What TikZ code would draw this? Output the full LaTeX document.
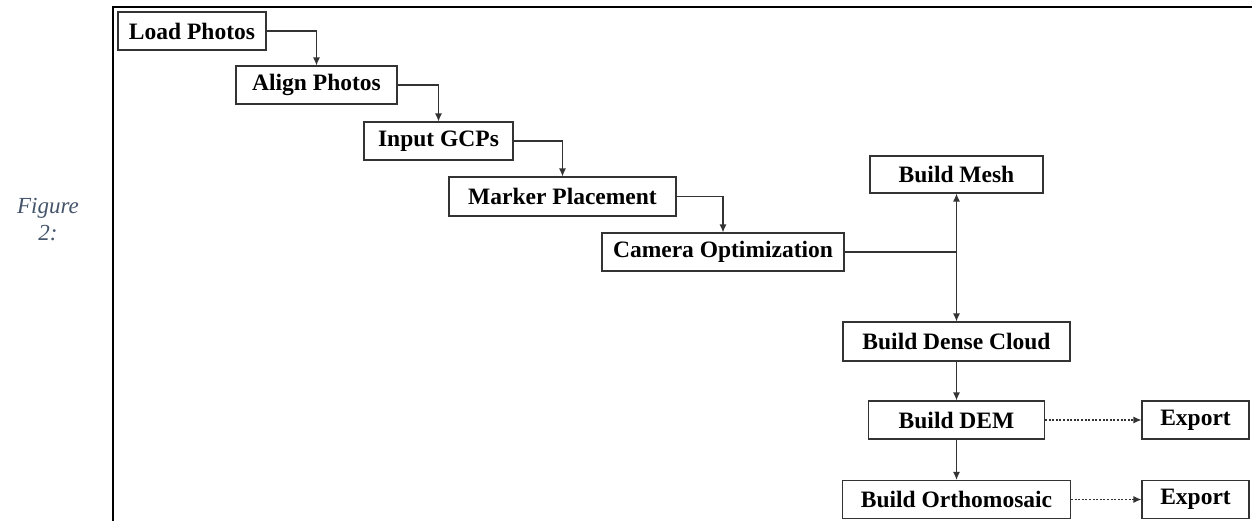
\documentclass[tikz,border=0pt]{standalone}
\usepackage{fontspec}
\setmainfont{Liberation Serif}
\usetikzlibrary{arrows.meta}
\definecolor{boxline}{HTML}{333333}
\definecolor{capcol}{HTML}{44546A}
\begin{document}
\begin{tikzpicture}[x=1pt,y=-1pt,
  stepbox/.style={draw=boxline,line width=1.1pt,fill=white,inner sep=0pt,
    font=\fontsize{23.5}{27}\selectfont\bfseries,text=black},
  conn/.style={draw=boxline,line width=1.2pt},
  arr/.style={conn,-{Latex[length=8pt,width=7pt]}},
  dotarr/.style={arr,dash pattern=on 2pt off 1.6pt}]
\useasboundingbox (0,0) rectangle (1252,521);
\draw[line width=1.6pt,black] (113,521) -- (113,7) -- (1252,7);
\node[font=\fontsize{23}{27}\selectfont\itshape,text=capcol,align=center] (cap) at (48,220) {Figure\\2:};
\node[stepbox,minimum width=148pt,minimum height=38pt] (load) at (192,31) {Load Photos};
\node[stepbox,minimum width=161pt,minimum height=38pt] (align) at (316.5,85) {Align Photos};
\node[stepbox,minimum width=149pt,minimum height=38pt] (gcp) at (438.5,141) {Input GCPs};
\node[stepbox,minimum width=227pt,minimum height=39pt] (marker) at (562.5,196.5) {Marker Placement};
\node[stepbox,minimum width=242pt,minimum height=38pt] (camera) at (723,252) {Camera Optimization};
\node[stepbox,minimum width=173pt,minimum height=37pt] (mesh) at (956.5,174.5) {Build Mesh};
\node[stepbox,minimum width=227pt,minimum height=39pt] (dense) at (956.5,341.5) {Build Dense Cloud};
\node[stepbox,minimum width=176pt,minimum height=38pt] (dem) at (956.5,420) {Build DEM};
\node[stepbox,minimum width=228pt,minimum height=38pt] (ortho) at (956.5,499.5) {Build Orthomosaic};
\node[stepbox,minimum width=107pt,minimum height=38pt] (exp1) at (1195.5,420) {Export};
\node[stepbox,minimum width=107pt,minimum height=38pt] (exp2) at (1195.5,499.5) {Export};
\coordinate (junc) at (956.5,252);
\draw[arr] (load.east) -| (align.north);
\draw[arr] (align.east) -| (gcp.north);
\draw[arr] (gcp.east) -| (marker.north);
\draw[arr] (marker.east) -| (camera.north);
\draw[conn] (camera.east) -- (junc);
\draw[arr] (junc) -- (mesh.south);
\draw[arr] (junc) -- (dense.north);
\draw[arr] (dense.south) -- (dem.north);
\draw[arr] (dem.south) -- (ortho.north);
\draw[dotarr] (dem.east) -- (exp1.west);
\draw[dotarr] (ortho.east) -- (exp2.west);
\end{tikzpicture}
\end{document}
